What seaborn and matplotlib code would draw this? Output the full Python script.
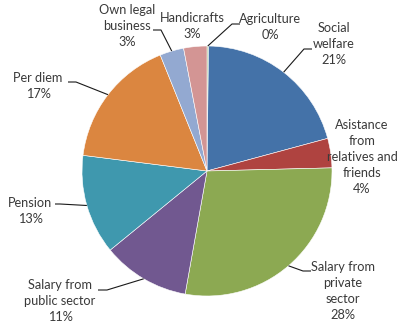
import matplotlib
matplotlib.use("Agg")
import matplotlib.pyplot as plt
import seaborn as sns
import numpy as np

categories = ["Agriculture", "Social\nwelfare", "Asistance\nfrom\nrelatives and\nfriends",
              "Salary from\nprivate\nsector", "Salary from\npublic sector", "Pension",
              "Per diem", "Own legal\nbusiness", "Handicrafts"]
shares = [0.2, 20.6, 3.8, 28.2, 11.3, 12.9, 16.9, 3.1, 3.0]
colors = ["#A9C58C", "#4472A8", "#AF4340", "#8CA952", "#715890", "#3F98AE",
          "#DB8640", "#93A9D1", "#D39594"]

sns.set_theme(style="white")
plt.rcParams["font.family"] = ["Lato", "DejaVu Sans"]

W, H = 397, 322
fig = plt.figure(figsize=(W / 100, H / 100), dpi=100)
ax = fig.add_axes([0, 0, 1, 1])

cx, cy, R = 207, H - 171, 125
wedges, _ = ax.pie(shares, colors=colors, startangle=90, counterclock=False,
                   center=(cx, cy), radius=R, frame=True,
                   wedgeprops=dict(edgecolor="white", linewidth=0.4))
ax.set_xlim(0, W)
ax.set_ylim(0, H)
ax.set_aspect("equal")
ax.axis("off")

# label layout (pixel coords from top-left): text center, leader path (elbow, end)
layout = [
    ((270, 27), [(232, 24), (240, 24)]),
    ((334, 44), [(304, 49), (312, 49)]),
    ((362, 157), None),
    ((343, 291), [(303, 271), (311, 271)]),
    ((60, 301), [(107, 290), (98, 290)]),
    ((30, 211), [(60, 204), (55, 204)]),
    ((38, 86), [(76, 82), (68, 82)]),
    ((127, 26), [(161, 30), (153, 30)]),
    ((192, 26), None),
]

total = sum(shares)
txt_color = "#3a3a3a"
for w, cat, val, (tc, lead) in zip(wedges, categories, shares, layout):
    pct = int(round(val / total * 100))
    ax.text(tc[0], H - tc[1], f"{cat}\n{pct}%", ha="center", va="center",
            fontsize=9.2, color=txt_color, linespacing=1.42)
    if lead is not None:
        mid = np.deg2rad((w.theta1 + w.theta2) / 2)
        ex, ey = cx + R * np.cos(mid), cy + R * np.sin(mid)
        xs = [ex] + [p[0] for p in lead]
        ys = [ey] + [H - p[1] for p in lead]
        ax.plot(xs, ys, color="#1a1a1a", linewidth=0.8, solid_capstyle="butt")

fig.savefig("out.png", dpi=100, facecolor="white")
